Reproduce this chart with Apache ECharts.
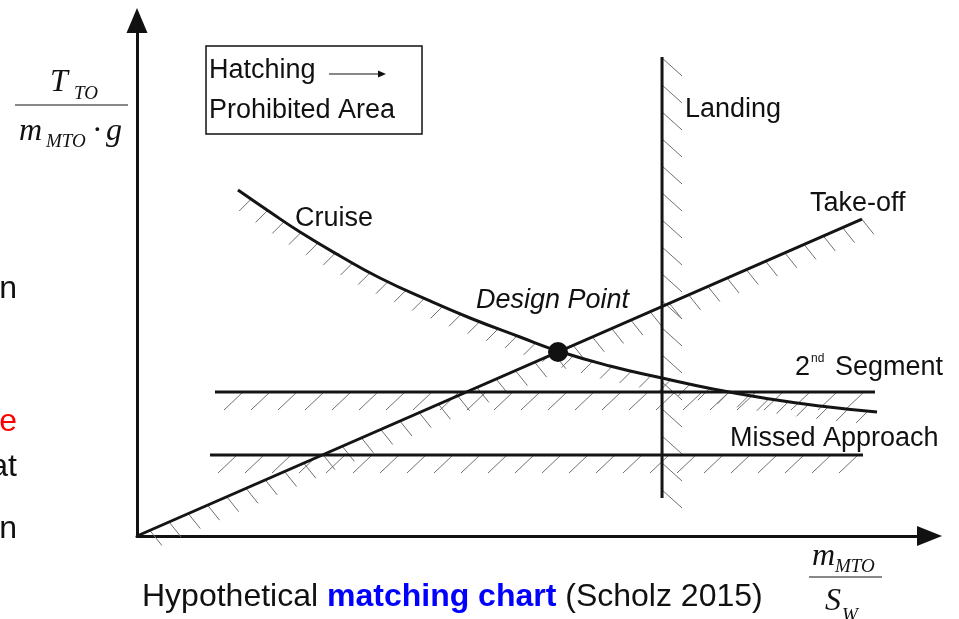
<!DOCTYPE html>
<html><head><meta charset="utf-8">
<script src="https://cdn.jsdelivr.net/npm/echarts@6/dist/echarts.min.js"></script>
<style>html,body{margin:0;padding:0;background:#fff}#c{width:959px;height:619px}</style>
</head><body><div id="c"></div>
<script>
// ---- data (normalised units 0..100 on both axes) ----
const cruiseX = [12.74,16.78,20.57,25.62,30.66,36.97,42.02,48.33,53.12,59.68,66.25,72.68,79.87,86.18,93.38];
const cruiseY = [67.12,62.85,58.97,54.32,50.05,45.59,42.29,38.60,35.89,32.98,30.65,28.52,26.58,25.22,24.05];
const takeoffX = [0, 91.48];
const takeoffY = [0, 61.49];
const landingX = [66.25, 66.25];
const landingY = [92.92, 7.37];
const segment2X = [9.84, 93.12];
const segment2Y = [27.93, 27.93];
const missedX = [9.21, 91.61];
const missedY = [15.71, 15.71];
const designX = [53.12];
const designY = [35.70];

const zip = (xs, ys) => xs.map((x, i) => [x, ys[i]]);

const SANS = '"Liberation Sans", Arial, sans-serif';
const SERIF = '"Liberation Serif", "Times New Roman", serif';

function lineSeries(name, xs, ys, smooth) {
  return {
    name, type: 'line', data: zip(xs, ys), showSymbol: false, smooth: smooth || false,
    lineStyle: { color: '#141414', width: 3 }, z: 5, silent: true
  };
}

function hatchSeries(name, xs, ys, spacing, start, vec) {
  const pts = zip(xs, ys);
  return {
    name: name + '-hatch', type: 'custom', coordinateSystem: 'cartesian2d', data: pts, silent: true, z: 3, clip: false,
    renderItem: function (params, api) {
      if (params.dataIndex !== 0) return null;
      const px = pts.map(p => api.coord(p));
      const children = [];
      let t0 = start;
      for (let i = 0; i < px.length - 1; i++) {
        const [x0, y0] = px[i], [x1, y1] = px[i + 1];
        const len = Math.hypot(x1 - x0, y1 - y0);
        let t = t0;
        while (t <= len) {
          const a = x0 + (x1 - x0) * t / len, b = y0 + (y1 - y0) * t / len;
          children.push({ type: 'line', shape: { x1: a, y1: b, x2: a + vec[0], y2: b + vec[1] },
            style: { stroke: '#707070', lineWidth: 1 } });
          t += spacing;
        }
        t0 = t - len;
      }
      return { type: 'group', children };
    }
  };
}

function txt(text, x, base, fs, o) {
  o = o || {};
  const fam = o.family || SANS;
  const k = o.family === SERIF ? 0.338 : 0.347;
  const align = o.align || 'left';
  return {
    type: 'text', x: x, y: base - k * fs, silent: true,
    style: {
      text: text, font: (o.style || 'normal') + ' ' + (o.weight || 'normal') + ' ' + fs + 'px ' + fam,
      fill: o.color || '#111', textAlign: align, align: align, textVerticalAlign: 'middle', verticalAlign: 'middle'
    }
  };
}

const chart = echarts.init(document.getElementById('c'), null, { renderer: 'canvas' });
chart.setOption({
  animation: false,
  backgroundColor: '#fff',
  grid: { left: 137, right: 29.5, top: 20.5, bottom: 83 },
  xAxis: {
    type: 'value', min: 0, max: 100,
    axisLine: { show: true, onZero: false, symbol: ['none', 'triangle'], symbolSize: [20, 25], lineStyle: { color: '#111', width: 3 } },
    axisTick: { show: false }, axisLabel: { show: false }, splitLine: { show: false }
  },
  yAxis: {
    type: 'value', min: 0, max: 100,
    axisLine: { show: true, onZero: false, symbol: ['none', 'triangle'], symbolSize: [21, 25], lineStyle: { color: '#111', width: 3 } },
    axisTick: { show: false }, axisLabel: { show: false }, splitLine: { show: false }
  },
  series: [
    hatchSeries('Cruise', cruiseX, cruiseY, 20, 16, [-12, 12]),
    hatchSeries('Take-off', takeoffX, takeoffY, 21, 14, [12, 15]),
    hatchSeries('Landing', landingX, landingY, 27, 1, [20, 18]),
    hatchSeries('2nd Segment', segment2X, segment2Y, 27, 28, [-19, 18]),
    hatchSeries('Missed Approach', missedX, missedY, 27, 27, [-19, 18]),
    lineSeries('Cruise', cruiseX, cruiseY, true),
    lineSeries('Take-off', takeoffX, takeoffY),
    lineSeries('Landing', landingX, landingY),
    lineSeries('2nd Segment', segment2X, segment2Y),
    lineSeries('Missed Approach', missedX, missedY),
    { name: 'Design Point', type: 'scatter', data: zip(designX, designY), symbol: 'circle', symbolSize: 20,
      itemStyle: { color: '#111', opacity: 1 }, z: 10, silent: true }
  ],
  graphic: [
    // legend box
    { type: 'rect', shape: { x: 206, y: 46, width: 216, height: 88 }, style: { fill: 'none', stroke: '#111', lineWidth: 1.5 }, silent: true },
    { type: 'line', shape: { x1: 329, y1: 74, x2: 378, y2: 74 }, style: { stroke: '#111', lineWidth: 1 }, silent: true },
    { type: 'polygon', shape: { points: [[378, 70.5], [386, 74], [378, 77.5]] }, style: { fill: '#111' }, silent: true },
    txt('Hatching', 209, 80, 27),
    txt('Prohibited Area', 209, 120, 27),
    // curve labels
    txt('Cruise', 295, 228, 27),
    txt('Landing', 685, 119, 27),
    txt('Take-off', 810, 213, 27),
    txt('Design Point', 476, 310, 27, { style: 'italic' }),
    txt('2', 795, 377, 27),
    txt('nd', 811, 363, 12),
    txt('Segment', 835, 377, 27),
    txt('Missed Approach', 730, 448, 27),
    // y-axis label
    txt('T', 50, 93, 32, { family: SERIF, style: 'italic' }),
    txt('TO', 74, 100, 19, { family: SERIF, style: 'italic' }),
    { type: 'line', shape: { x1: 15, y1: 105, x2: 128, y2: 105 }, style: { stroke: '#111', lineWidth: 1 }, silent: true },
    txt('m', 19, 142, 32, { family: SERIF, style: 'italic' }),
    txt('MTO', 46, 148, 19, { family: SERIF, style: 'italic' }),
    txt('\u00b7', 92, 142, 32, { family: SERIF }),
    txt('g', 106, 142, 32, { family: SERIF, style: 'italic' }),
    // x-axis label
    txt('m', 812, 567, 32, { family: SERIF, style: 'italic' }),
    txt('MTO', 835, 573, 19, { family: SERIF, style: 'italic' }),
    { type: 'line', shape: { x1: 809, y1: 577, x2: 882, y2: 577 }, style: { stroke: '#111', lineWidth: 1 }, silent: true },
    txt('S', 825, 612, 32, { family: SERIF, style: 'italic' }),
    txt('W', 842, 622, 19, { family: SERIF, style: 'italic' }),
    // caption
    {
      type: 'text', x: 142, y: 608 - 0.347 * 32, silent: true,
      style: {
        text: '{n|Hypothetical }{b|matching chart}{n| (Scholz 2015)}',
        textVerticalAlign: 'middle', verticalAlign: 'middle',
        rich: {
          n: { font: 'normal 32px ' + SANS, fill: '#111', color: '#111' },
          b: { font: 'bold 32px ' + SANS, fill: '#0000ff', color: '#0000ff' }
        }
      }
    },
    // cut-off slide text at left edge
    txt('n', 17, 300, 32, { align: 'right' }),
    txt('e', 17, 433, 32, { align: 'right', color: '#ff0000' }),
    txt('at', 17, 478, 32, { align: 'right' }),
    txt('n', 17, 540, 32, { align: 'right' })
  ]
});
</script>
</body></html>
